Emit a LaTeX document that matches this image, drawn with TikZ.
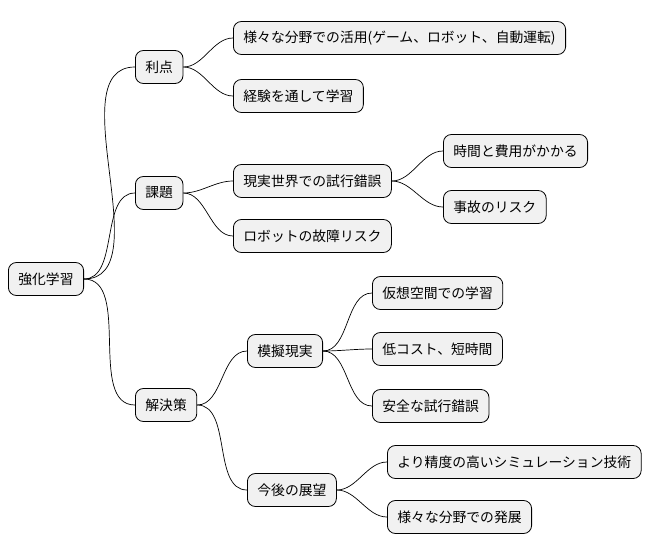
\documentclass[tikz,border=0pt]{standalone}
\usepackage{fontspec}
\setmainfont{Noto Sans CJK JP}
\begin{document}
\begin{tikzpicture}[x=1pt,y=-1pt,
  n/.style={draw=black,line width=0.8pt,fill={rgb,255:red,241;green,241;blue,241},rounded corners=8pt,anchor=west,minimum height=33pt,inner xsep=10pt,font=\fontsize{13.8}{15}\selectfont},
  c/.style={line width=0.7pt,out=0,in=180,looseness=0.9}]
\useasboundingbox (0,0) rectangle (656,555);
\node[n] (r) at (8,279) {強化学習};
\node[n] (a) at (135,67) {利点};
\node[n] (b) at (135,193) {課題};
\node[n] (c) at (135,405) {解決策};
\node[n] (a1) at (233,38) {様々な分野での活用(ゲーム、ロボット、自動運転)};
\node[n] (a2) at (233,96) {経験を通して学習};
\node[n] (b1) at (233,181) {現実世界での試行錯誤};
\node[n] (b2) at (233,236) {ロボットの故障リスク};
\node[n] (b11) at (443,151) {時間と費用がかかる};
\node[n] (b12) at (443,207) {事故のリスク};
\node[n] (c1) at (247,351) {模擬現実};
\node[n] (c2) at (247,490) {今後の展望};
\node[n] (c11) at (372,293) {仮想空間での学習};
\node[n] (c12) at (372,349) {低コスト、短時間};
\node[n] (c13) at (372,406) {安全な試行錯誤};
\node[n] (c21) at (387,462) {より精度の高いシミュレーション技術};
\node[n] (c22) at (387,517) {様々な分野での発展};
\foreach \p/\q in {r/a,r/b,r/c,a/a1,a/a2,b/b1,b/b2,b1/b11,b1/b12,c/c1,c/c2,c1/c11,c1/c12,c1/c13,c2/c21,c2/c22}
  \draw[c] (\p.east) to (\q.west);
\end{tikzpicture}
\end{document}
